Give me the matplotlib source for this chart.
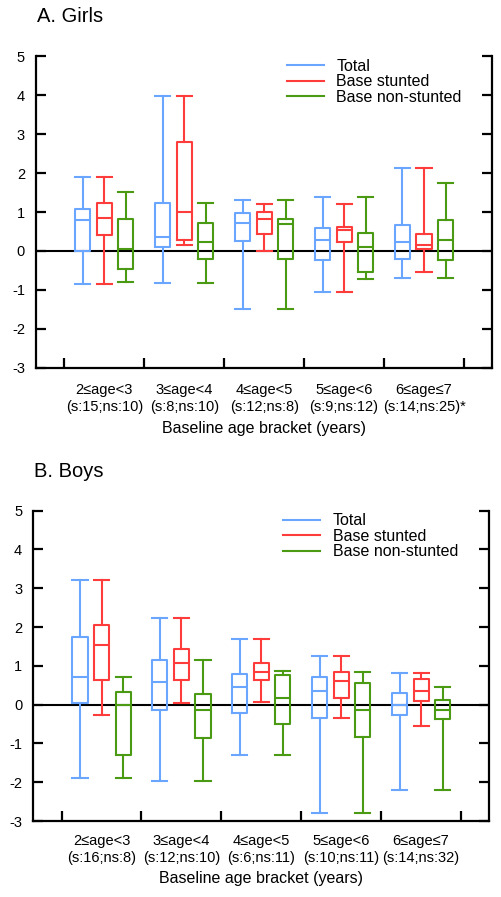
import matplotlib
matplotlib.use("Agg")
import matplotlib.pyplot as plt

plt.rcParams['font.family'] = ['Liberation Sans', 'DejaVu Sans']
plt.rcParams['axes.unicode_minus'] = False

series = ["Total", "Base stunted", "Base non-stunted"]
colors = ["#6aa6ff", "#ff3c3c", "#4a9a14"]

girls_labels = ["2\u2264age<3\n(s:15;ns:10)", "3\u2264age<4\n(s:8;ns:10)",
                "4\u2264age<5\n(s:12;ns:8)", "5\u2264age<6\n(s:9;ns:12)",
                "6\u2264age\u22647\n(s:14;ns:25)*"]
boys_labels = ["2\u2264age<3\n(s:16;ns:8)", "3\u2264age<4\n(s:12;ns:10)",
               "4\u2264age<5\n(s:6;ns:11)", "5\u2264age<6\n(s:10;ns:11)",
               "6\u2264age\u22647\n(s:14;ns:32)"]

# Each entry: (whisker low, q1, median, q3, whisker high) per age bracket
girls_total = [(-0.86, 0.00, 0.79, 1.07, 1.90), (-0.83, 0.11, 0.37, 1.23, 3.98),
               (-1.48, 0.26, 0.71, 0.97, 1.30), (-1.05, -0.23, 0.28, 0.60, 1.38),
               (-0.69, -0.21, 0.24, 0.67, 2.14)]
girls_stunted = [(-0.86, 0.41, 0.84, 1.245, 1.90), (0.155, 0.28, 0.99, 2.81, 3.98),
                 (0.00, 0.43, 0.82, 1.00, 1.20), (-1.05, 0.23, 0.54, 0.61, 1.20),
                 (-0.53, 0.05, 0.155, 0.44, 2.14)]
girls_nonstunted = [(-0.79, -0.47, 0.05, 0.815, 1.51), (-0.83, -0.21, 0.22, 0.71, 1.23),
                    (-1.48, -0.21, 0.69, 0.815, 1.30), (-0.72, -0.53, 0.09, 0.47, 1.38),
                    (-0.69, -0.23, 0.27, 0.80, 1.74)]

boys_total = [(-1.89, 0.04, 0.72, 1.74, 3.21), (-1.97, -0.13, 0.59, 1.15, 2.23),
              (-1.31, -0.22, 0.46, 0.80, 1.70), (-2.80, -0.34, 0.36, 0.70, 1.26),
              (-2.20, -0.28, 0.00, 0.30, 0.81)]
boys_stunted = [(-0.28, 0.63, 1.54, 2.06, 3.21), (0.04, 0.63, 1.07, 1.43, 2.23),
                (0.08, 0.64, 0.83, 1.07, 1.70), (-0.34, 0.16, 0.62, 0.85, 1.26),
                (-0.56, 0.085, 0.36, 0.66, 0.81)]
boys_nonstunted = [(-1.89, -1.29, 0.00, 0.32, 0.70), (-1.97, -0.85, -0.14, 0.27, 1.15),
                   (-1.31, -0.50, 0.17, 0.77, 0.87), (-2.80, -0.84, -0.14, 0.56, 0.85),
                   (-2.20, -0.38, -0.13, 0.13, 0.46)]

yticks = [-3, -2, -1, 0, 1, 2, 3, 4, 5]
W, H = 502, 897
fig = plt.figure(figsize=(W / 100, H / 100), dpi=100)


def make_stats(rows):
    return [dict(whislo=r[0], q1=r[1], med=r[2], q3=r[3], whishi=r[4], fliers=[])
            for r in rows]


def panel(rect, title, title_xy, data, labels, leg_anchor, pad, lpad):
    ax = fig.add_axes(rect)
    positions = list(range(1, len(labels) + 1))
    offsets = [-0.27, 0.0, 0.27]
    bw = 0.19
    for s, (rows, col, off) in enumerate(zip(data, colors, offsets)):
        pos = [p + off for p in positions]
        ax.bxp(make_stats(rows), positions=pos, widths=bw, capwidths=bw,
               showfliers=False, manage_ticks=False,
               boxprops=dict(color=col, linewidth=1.5),
               whiskerprops=dict(color=col, linewidth=1.5),
               capprops=dict(color=col, linewidth=1.5),
               medianprops=dict(color=col, linewidth=1.5))
        ax.plot([], [], color=col, linewidth=1.5, label=series[s])
    ax.axhline(0, color="black", linewidth=1.5, zorder=0)
    ax.set_xlim(0.146, 5.85)
    ax.set_ylim(-3, 5)
    ax.spines['top'].set_visible(False)
    for sp in ['left', 'right', 'bottom']:
        ax.spines[sp].set_linewidth(1.6)
    ax.set_yticks(yticks)
    ax.set_yticks([5], minor=True)
    ax.tick_params(axis='y', which='major', direction='in', length=7.2, width=1.6,
                   left=True, right=True, labelsize=10.5, pad=8)
    ax.tick_params(axis='y', which='minor', direction='in', length=14.4, width=1.6,
                   left=True, right=True, labelleft=False)
    ax.set_xticks([p - 0.5 for p in positions] + [positions[-1] + 0.5])
    ax.set_xticklabels([])
    ax.set_xticks(positions, minor=True)
    ax.set_xticklabels(labels, minor=True, linespacing=1.3)
    ax.tick_params(axis='x', which='major', direction='in', length=7.2, width=1.6)
    ax.tick_params(axis='x', which='minor', length=0, labelsize=10.5, pad=pad)
    ax.set_xlabel("Baseline age bracket (years)", fontsize=11.5, labelpad=lpad)
    ax.legend(loc='upper left', bbox_to_anchor=leg_anchor, frameon=False,
              fontsize=11.5, handlelength=2.3, handletextpad=0.8,
              labelspacing=0.03, borderpad=0, borderaxespad=0)
    fig.text(title_xy[0] / W, 1 - title_xy[1] / H, title, fontsize=14.5,
             ha='left', va='baseline')
    return ax


panel([36 / W, 1 - 367.7 / H, (492 - 36) / W, (367.7 - 56.5) / H], "A. Girls",
      (36.7, 21.7), [girls_total, girls_stunted, girls_nonstunted], girls_labels,
      (0.550, 0.992), 10.8, 5)
panel([33.3 / W, 1 - 821 / H, (489 - 33.3) / W, (821 - 510.7) / H], "B. Boys",
      (34.3, 476.7), [boys_total, boys_stunted, boys_nonstunted], boys_labels,
      (0.549, 0.991), 9.5, 4)

fig.savefig("out.png", dpi=100)
